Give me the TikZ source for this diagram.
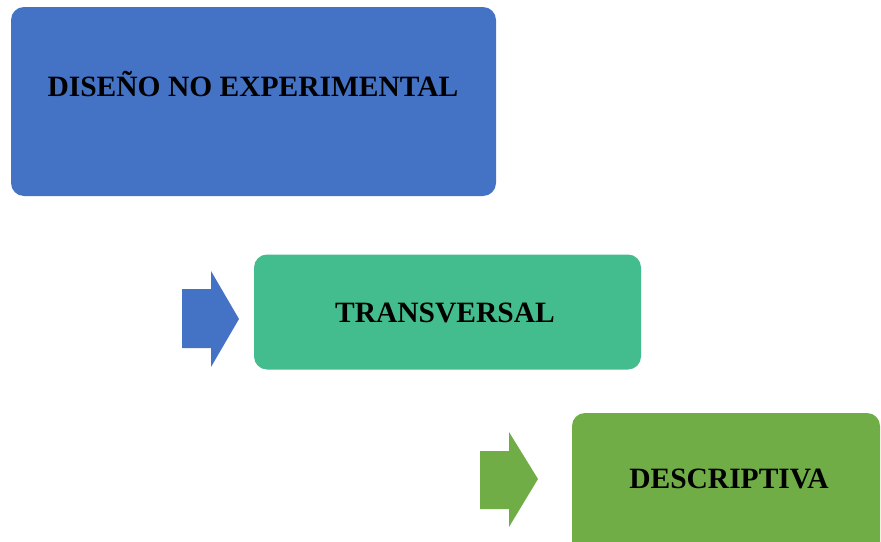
\documentclass[tikz,border=0pt]{standalone}
\usepackage{fontspec}
\setmainfont{Liberation Serif}
\definecolor{cblue}{HTML}{4472C4}
\definecolor{cteal}{HTML}{44BD8E}
\definecolor{cgreen}{HTML}{70AD47}
\begin{document}
\begin{tikzpicture}[x=1pt,y=-1pt,
  box/.style={rectangle, rounded corners=13pt, draw=none, inner sep=0pt},
  lbl/.style={anchor=base, inner sep=0pt, font=\fontsize{29.5}{34}\selectfont\bfseries},
  arrowshape/.style={draw=none}]
\useasboundingbox (0,0) rectangle (881,541);
\clip (0,0) rectangle (881,541);
\node[box, fill=cblue, minimum width=485pt, minimum height=189pt] (b1) at (253.5,101.5) {};
\node[lbl] (t1) at (253,96) {DISEÑO NO EXPERIMENTAL};
\node[box, fill=cteal, minimum width=387pt, minimum height=115pt] (b2) at (447.5,312) {};
\node[lbl] (t2) at (445,322) {TRANSVERSAL};
\node[box, fill=cgreen, minimum width=308pt, minimum height=160pt] (b3) at (726,493) {};
\node[lbl] (t3) at (729,488) {DESCRIPTIVA};
\fill[cblue] (182,289) -- (211,289) -- (211,271) -- (239,319) -- (211,367) -- (211,348) -- (182,348) -- cycle;
\fill[cgreen] (480,451) -- (509,451) -- (509,432) -- (538,479) -- (509,527) -- (509,509) -- (480,509) -- cycle;
\end{tikzpicture}
\end{document}
